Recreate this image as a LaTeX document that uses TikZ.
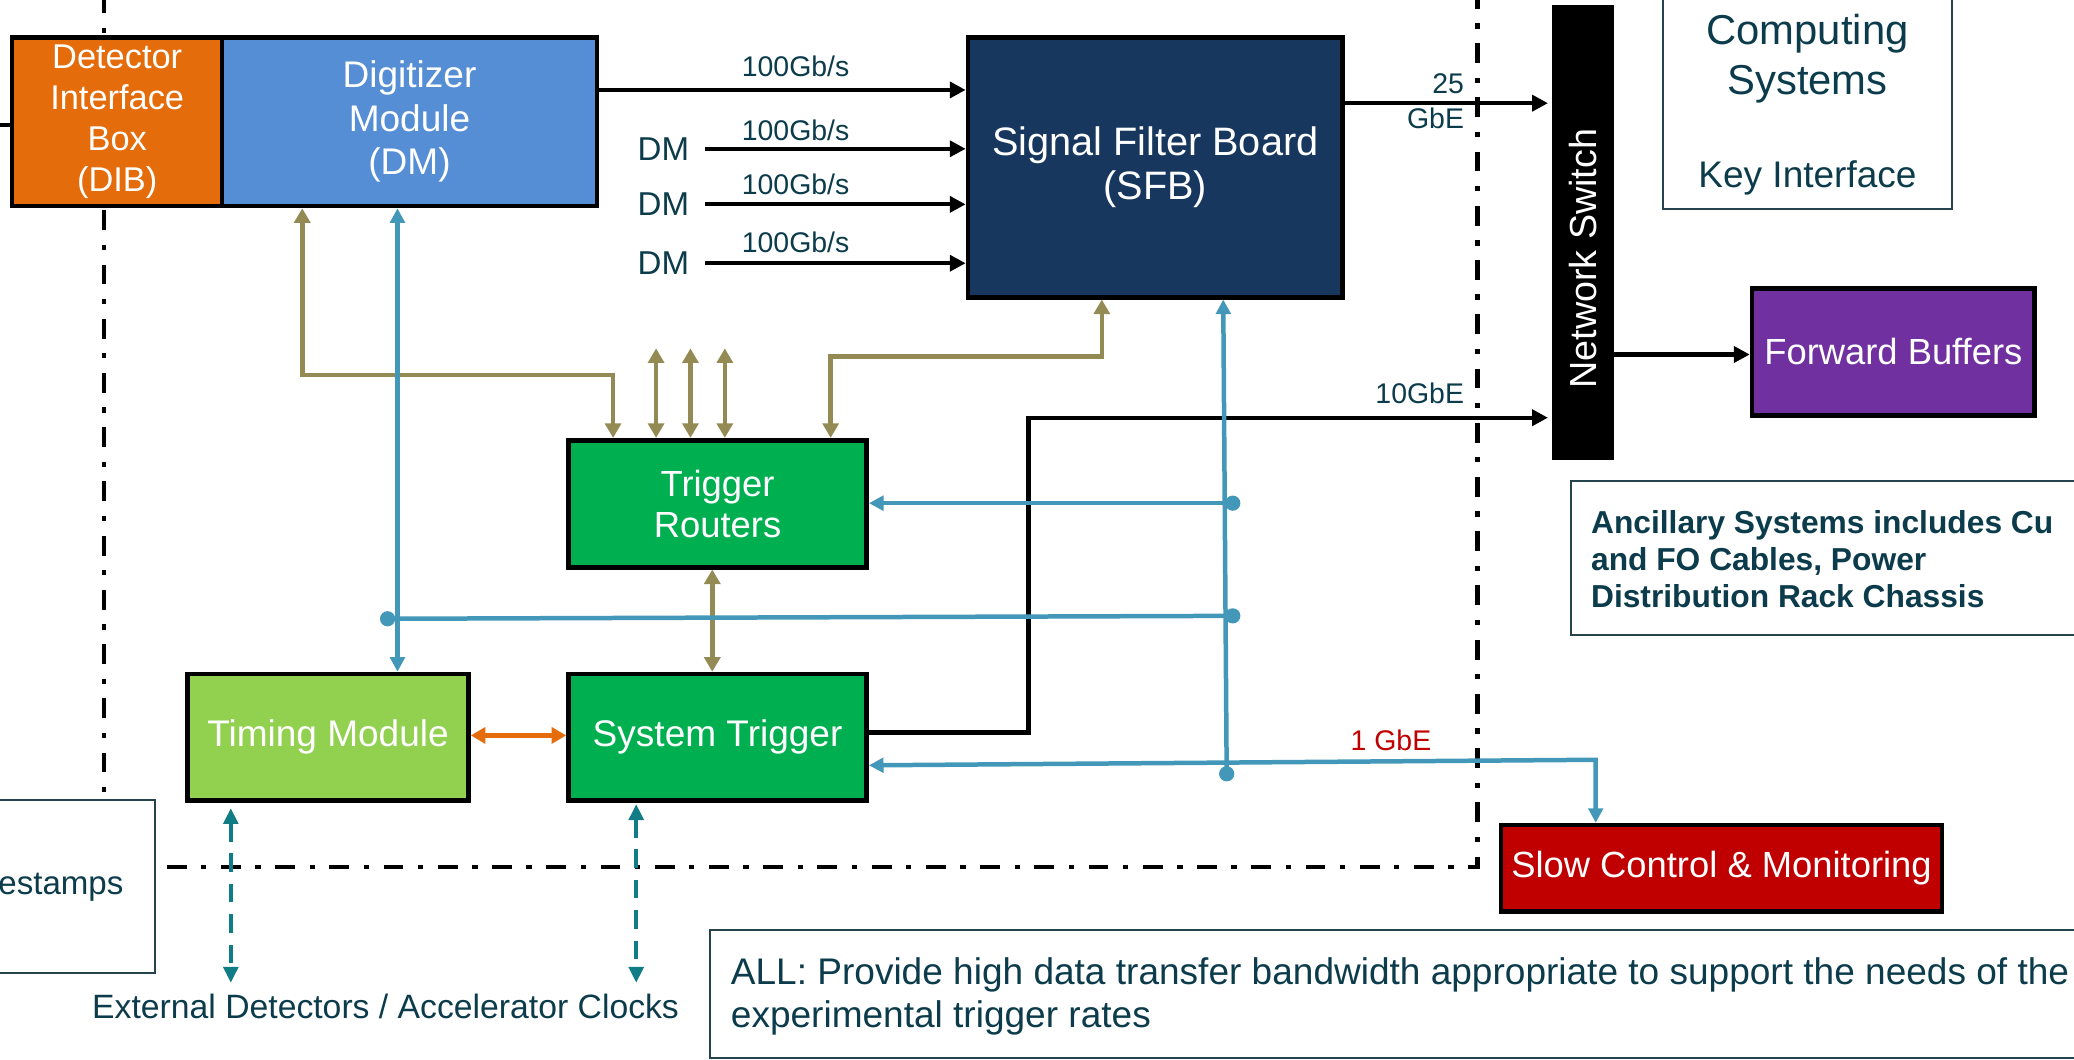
\documentclass[tikz,border=0pt]{standalone}
\usepackage{fontspec}
\setmainfont{Liberation Sans}
\usetikzlibrary{arrows.meta,calc}
\definecolor{dibor}{HTML}{E46C0A}
\definecolor{dmblue}{HTML}{558ED5}
\definecolor{sfbnavy}{HTML}{17375E}
\definecolor{trgreen}{HTML}{00B050}
\definecolor{tmgreen}{HTML}{92D050}
\definecolor{fbpurple}{HTML}{7030A0}
\definecolor{scred}{HTML}{C00000}
\definecolor{olivec}{HTML}{948A54}
\definecolor{bluec}{HTML}{4398BA}
\definecolor{tealc}{HTML}{107C85}
\definecolor{txtc}{HTML}{0C3C4C}
\definecolor{thinb}{HTML}{24434D}
\newcommand\myfs[2]{\fontsize{#1}{#2}\selectfont}
\begin{document}
\begin{tikzpicture}[x=1pt,y=-1pt,
  box/.style={draw=black,line width=3.5pt,inner sep=0pt,align=center,text=white},
  thinbox/.style={draw=thinb,line width=1.6pt,inner sep=0pt},
  lbl/.style={text=txtc,inner sep=0pt},
  frame/.style={line width=3.5pt,draw=black,dash pattern=on 15pt off 11pt on 4pt off 11pt},
  blkarrow/.style={line width=3.2pt,draw=black,-{Triangle[length=12pt,width=12pt]}},
  olvarrow/.style={line width=3.5pt,draw=olivec,{Triangle[length=11pt,width=12pt]}-{Triangle[length=11pt,width=12pt]}},
  blutwo/.style={line width=3.4pt,draw=bluec,{Triangle[length=11pt,width=11pt]}-{Triangle[length=11pt,width=11pt]}},
  bluone/.style={line width=3.4pt,draw=bluec,-{Triangle[length=11pt,width=11pt]}},
  bluplain/.style={line width=3.4pt,draw=bluec},
  tealdash/.style={line width=3pt,draw=tealc,dash pattern=on 14pt off 9pt,{Triangle[length=12pt,width=11pt]}-{Triangle[length=12pt,width=11pt]}},
  orarrow/.style={line width=3.4pt,draw=dibor,{Triangle[length=11pt,width=12pt]}-{Triangle[length=11pt,width=12pt]}},
  bdot/.style={circle,fill=bluec,inner sep=0pt,minimum size=11.5pt}
]
\useasboundingbox (0,0) rectangle (1568,801);
\clip (0,0) rectangle (1568,801);

% ---- dash-dot frame ----
\draw[frame] (78.7,-5) -- (78.7,604.5);
\draw[frame] (126,655.6) -- (1117,655.6) -- (1117,-5);

% ---- thin boxes ----
\node[thinbox,minimum width=219pt,minimum height=170pt] (CS) at (1366.5,73) {};
\node[text=txtc,align=center,font=\myfs{31.6}{38}] (cstxt) at (1366.5,44.5) {Computing\\Systems};
\node[text=txtc,font=\myfs{28}{33}] (kitxt) at (1366.5,134.7) {Key Interface};

\node[thinbox,minimum width=440pt,minimum height=116.5pt] (ANC) at (1408,421.75) {};
\node[text=txtc,anchor=west,align=left,inner sep=0pt,font=\bfseries\myfs{24}{28}] (anctxt) at (1202.7,422.5)
  {Ancillary Systems includes Cu\\and FO Cables, Power\\Distribution Rack Chassis};

\node[thinbox,fill=white,minimum width=127pt,minimum height=131pt] (TS) at (53.5,670) {};
\node[text=txtc,anchor=east,inner sep=0pt,font=\myfs{25}{30}] (tstxt) at (93.5,671) {estamps};

\node[thinbox,minimum width=1083pt,minimum height=97pt] (ALL) at (1078.5,751.5) {};
\node[text=txtc,anchor=west,align=left,inner sep=0pt,font=\myfs{28}{32.5}] (alltxt) at (552.4,753.5)
  {ALL: Provide high data transfer bandwidth appropriate to support the needs of the\\experimental trigger rates};

% ---- main boxes ----
\node[box,fill=dibor,minimum width=158.8pt,minimum height=127.4pt,font=\myfs{26}{31}] (DIB) at (88.6,92) {Detector\\Interface\\Box\\(DIB)};
\node[box,fill=dmblue,minimum width=283.3pt,minimum height=127.4pt,font=\myfs{28}{32.8}] (DM) at (309.6,92) {Digitizer\\Module\\(DM)};
\node[box,fill=sfbnavy,minimum width=283.2pt,minimum height=196.4pt,font=\myfs{30}{33}] (SFB) at (873.4,126.5) {Signal Filter Board\\(SFB)};
\node[fill=black,inner sep=0pt,minimum width=47pt,minimum height=344pt] (NS) at (1196.5,176) {};
\node[text=white,rotate=90,inner sep=0pt,font=\myfs{28.5}{33}] (nstxt) at (1196.5,195.5) {Network Switch};
\node[box,fill=fbpurple,minimum width=213.6pt,minimum height=96.2pt,font=\myfs{27.5}{33}] (FB) at (1431.4,266.1) {Forward Buffers};
\node[box,fill=trgreen,minimum width=225.4pt,minimum height=96pt,font=\myfs{27.5}{31}] (TR) at (542.5,380.8) {Trigger\\Routers};
\node[box,fill=trgreen,minimum width=225.4pt,minimum height=95.6pt,font=\myfs{28}{33}] (ST) at (542.5,557.4) {System Trigger};
\node[box,fill=tmgreen,minimum width=212.4pt,minimum height=95.6pt,font=\myfs{28}{33}] (TM) at (248,557.4) {Timing Module};
\node[box,fill=scred,minimum width=333.4pt,minimum height=65.4pt,font=\myfs{27.5}{33}] (SCM) at (1301.5,656.5) {Slow Control \& Monitoring};

% ---- black data links ----
\coordinate (lft) at (0,94.5);
\draw[line width=3.2pt] (lft) -- (DIB.west |- lft);
\coordinate (y68) at (0,68);
\draw[blkarrow] (DM.east |- y68) -- (SFB.west |- y68);
\node[lbl,font=\myfs{21.5}{25}] (r0) at (601.5,50.4) {100Gb/s};
\node[lbl,font=\myfs{25}{30},inner xsep=12pt] (dm1) at (501.5,112.5) {DM};
\node[lbl,font=\myfs{25}{30},inner xsep=12pt] (dm2) at (501.5,154.5) {DM};
\node[lbl,font=\myfs{25}{30},inner xsep=12pt] (dm3) at (501.5,199) {DM};
\draw[blkarrow] (dm1.east) -- (SFB.west |- dm1.east);
\draw[blkarrow] (dm2.east) -- (SFB.west |- dm2.east);
\draw[blkarrow] (dm3.east) -- (SFB.west |- dm3.east);
\node[lbl,font=\myfs{21.5}{25}] (r1) at (601.5,98.3) {100Gb/s};
\node[lbl,font=\myfs{21.5}{25}] (r2) at (601.5,139.5) {100Gb/s};
\node[lbl,font=\myfs{21.5}{25}] (r3) at (601.5,183.2) {100Gb/s};

\coordinate (y78) at (0,78);
\draw[blkarrow,shorten >=2.5pt] (SFB.east |- y78) -- (NS.west |- y78);
\node[lbl,anchor=east,font=\myfs{21.5}{25}] (l25) at (1107,63) {25};
\node[lbl,anchor=east,font=\myfs{21.5}{25}] (lgbe) at (1107,89.5) {GbE};

\coordinate (y268) at (0,268);
\draw[blkarrow] (NS.east |- y268) -- (FB.west |- y268);

\coordinate (tenA) at (777.6,553.8);
\coordinate (tenB) at (777.6,315.8);
\draw[blkarrow,shorten >=2.5pt] (ST.east |- tenA) -- (tenA) -- (tenB) -- (NS.west |- tenB);
\node[lbl,anchor=east,font=\myfs{21.5}{25}] (l10) at (1107,297.4) {10GbE};

% ---- olive trigger links ----
\coordinate (o1) at (228.5,283.5);
\coordinate (o2) at (463.5,283.5);
\draw[olvarrow] (DM.south -| o1) -- (o1) -- (o2) -- (TR.north -| o2);
\coordinate (t1) at (496,263.4);
\coordinate (t2) at (522,263.4);
\coordinate (t3) at (548,263.4);
\draw[olvarrow] (TR.north -| t1) -- (t1);
\draw[olvarrow] (TR.north -| t2) -- (t2);
\draw[olvarrow] (TR.north -| t3) -- (t3);
\coordinate (o3) at (628,269.7);
\coordinate (o4) at (833,269.7);
\draw[olvarrow] (TR.north -| o3) -- (o3) -- (o4) -- (SFB.south -| o4);
\coordinate (o5) at (538.5,0);
\draw[olvarrow] (TR.south -| o5) -- (ST.north -| o5);

% ---- blue control links ----
\coordinate (b1) at (300.5,0);
\draw[blutwo] (DM.south -| b1) -- (TM.north -| b1);
\node[bdot] (d1) at (293,467.8) {};
\node[bdot] (d2) at (932,380.4) {};
\node[bdot] (d3) at (932,465.6) {};
\node[bdot] (d4) at (927.4,585) {};
\draw[bluplain] (d1.center) -- (d3.center);
\coordinate (b2) at (924.8,0);
\draw[bluone] (d4.center) -- (SFB.south -| b2);
\draw[bluone] (d2.center) -- (TR.east |- d2.center);
\coordinate (b3) at (1206.4,574.4);
\coordinate (b4) at (0,578.6);
\draw[blutwo] (ST.east |- b4) -- (b3) -- (SCM.north -| b3);
\node[text=scred,inner sep=0pt,font=\myfs{21.5}{25}] (l1g) at (1051.6,560) {1 GbE};

% ---- timing links ----
\coordinate (h556) at (0,556);
\draw[orarrow] (TM.east |- h556) -- (ST.west |- h556);
\coordinate (e1) at (174.5,743);
\coordinate (e2) at (481,743);
\draw[tealdash,shorten <=4pt] (TM.south -| e1) -- (e1);
\draw[tealdash,shorten <=1pt] (ST.south -| e2) -- (e2);
\node[lbl,font=\myfs{25.5}{30}] (ext) at (291.5,760.6) {External Detectors / Accelerator Clocks};
\end{tikzpicture}
\end{document}
